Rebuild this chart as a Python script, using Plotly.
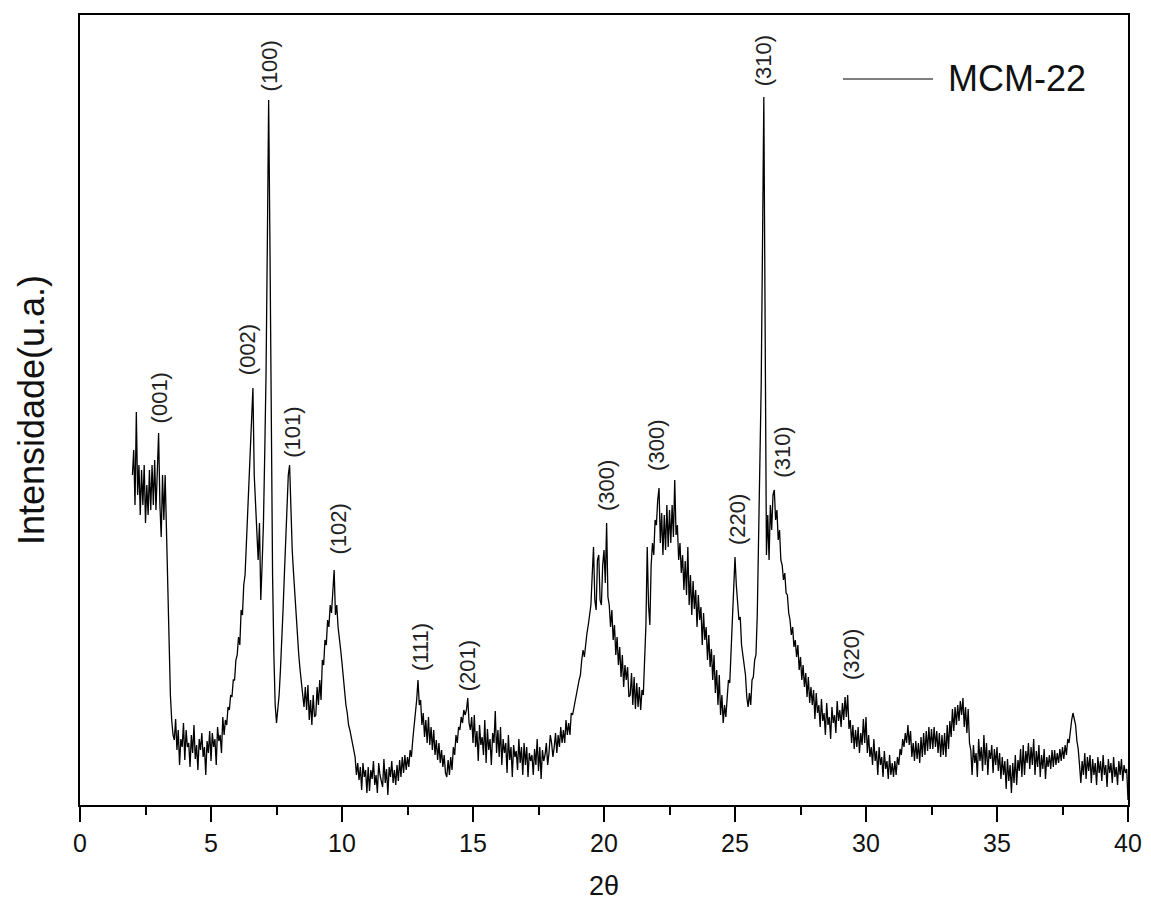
import plotly.graph_objects as go

# ---- data ----
# XRD sampling grid: 2.00 .. 40.00 degrees, 0.05 degree step; one row per degree
two_theta_start = 2.0
two_theta_step = 0.05

intensity_rows = [
    [330, 355, 300, 393, 310, 340, 290, 335, 300, 340, 282, 320, 290, 335, 295, 340, 300, 345, 295, 335],  # 2
    [372, 300, 268, 330, 285, 330, 270, 215, 150, 110, 85, 70, 65, 86, 55, 75, 40, 66, 58, 82],  # 3
    [45, 75, 58, 62, 38, 70, 52, 80, 46, 60, 35, 66, 55, 72, 48, 58, 30, 64, 52, 74],  # 4
    [44, 72, 58, 66, 40, 78, 64, 70, 52, 88, 70, 85, 80, 98, 95, 110, 108, 125, 125, 145],  # 5
    [150, 168, 160, 195, 190, 220, 230, 262, 290, 330, 360, 390, 417, 330, 300, 270, 245, 282, 205, 240],  # 6
    [280, 350, 430, 560, 705, 560, 330, 230, 150, 100, 82, 95, 110, 135, 160, 195, 230, 270, 300, 330],  # 7
    [340, 290, 255, 232, 210, 190, 175, 150, 135, 122, 115, 98, 118, 95, 120, 85, 105, 80, 110, 88],  # 8
    [90, 118, 100, 125, 105, 145, 140, 165, 160, 185, 178, 200, 192, 210, 235, 190, 200, 178, 168, 155],  # 9
    [142, 128, 110, 100, 92, 80, 75, 68, 62, 52, 48, 30, 42, 25, 38, 15, 42, 28, 35, 12],  # 10
    [38, 14, 35, 26, 44, 20, 30, 12, 42, 30, 24, 18, 46, 22, 36, 10, 38, 28, 44, 22],  # 11
    [35, 20, 40, 24, 45, 28, 48, 32, 50, 35, 48, 38, 55, 48, 65, 78, 90, 105, 125, 100],  # 12
    [105, 80, 92, 68, 85, 62, 88, 60, 78, 55, 75, 50, 65, 45, 62, 42, 55, 38, 50, 32],  # 13
    [28, 45, 30, 48, 35, 58, 50, 70, 62, 78, 75, 88, 82, 95, 90, 95, 107, 82, 75, 88],  # 14
    [62, 90, 58, 74, 44, 80, 60, 68, 50, 85, 42, 76, 55, 66, 40, 72, 62, 94, 52, 75],  # 15
    [48, 78, 40, 66, 52, 62, 32, 70, 45, 58, 28, 60, 48, 54, 35, 66, 42, 58, 30, 62],  # 16
    [40, 58, 28, 52, 44, 50, 30, 56, 40, 66, 34, 58, 26, 55, 44, 50, 62, 40, 52, 70],  # 17
    [62, 48, 58, 72, 52, 70, 58, 78, 62, 75, 62, 85, 70, 82, 70, 92, 90, 98, 105, 112],  # 18
    [118, 125, 130, 145, 155, 148, 162, 172, 180, 190, 200, 230, 258, 205, 195, 245, 250, 205, 200, 240],  # 19
    [255, 222, 282, 208, 200, 178, 195, 165, 180, 150, 168, 140, 158, 128, 150, 118, 140, 125, 138, 108],  # 20
    [110, 132, 100, 128, 96, 122, 98, 118, 95, 115, 110, 145, 180, 258, 200, 180, 240, 262, 250, 285],  # 21
    [280, 305, 317, 262, 292, 250, 290, 255, 300, 258, 295, 262, 300, 268, 325, 270, 280, 245, 262, 232],  # 22
    [250, 215, 244, 210, 258, 200, 230, 190, 224, 196, 215, 178, 210, 185, 198, 160, 192, 165, 178, 145],  # 23
    [170, 138, 156, 125, 150, 112, 135, 100, 130, 90, 110, 82, 100, 88, 110, 125, 122, 150, 185, 215],  # 24
    [248, 220, 205, 185, 188, 160, 150, 138, 130, 108, 98, 112, 100, 125, 128, 145, 150, 190, 255, 340],  # 25
    [420, 560, 708, 480, 250, 290, 245, 300, 275, 310, 315, 285, 295, 265, 275, 245, 240, 225, 232, 212],  # 26
    [210, 192, 185, 170, 178, 158, 165, 148, 160, 135, 148, 125, 140, 118, 132, 108, 128, 102, 118, 100],  # 27
    [115, 86, 112, 92, 100, 78, 106, 84, 92, 70, 102, 80, 88, 66, 98, 82, 90, 72, 104, 84],  # 28
    [95, 78, 102, 85, 108, 88, 110, 76, 85, 62, 80, 56, 75, 58, 78, 52, 72, 60, 86, 62],  # 29
    [88, 52, 70, 48, 58, 40, 66, 44, 54, 30, 58, 40, 48, 28, 54, 36, 44, 26, 50, 30],  # 30
    [42, 28, 44, 30, 48, 40, 56, 50, 66, 58, 72, 62, 80, 60, 74, 48, 62, 44, 64, 46],  # 31
    [62, 42, 68, 48, 72, 50, 74, 54, 78, 56, 76, 56, 78, 58, 74, 52, 72, 48, 70, 50],  # 32
    [72, 48, 80, 56, 84, 68, 96, 74, 98, 80, 100, 84, 104, 90, 107, 78, 98, 72, 96, 62],  # 33
    [55, 30, 60, 42, 52, 28, 66, 44, 58, 34, 70, 40, 62, 30, 55, 46, 60, 32, 56, 40],  # 34
    [58, 34, 52, 26, 48, 30, 44, 16, 46, 24, 40, 12, 42, 22, 50, 20, 45, 34, 56, 28],  # 35
    [60, 30, 54, 42, 62, 36, 58, 40, 66, 30, 54, 38, 60, 28, 50, 36, 56, 26, 48, 38],  # 36
    [50, 36, 55, 38, 55, 40, 52, 42, 56, 44, 58, 46, 60, 50, 66, 62, 75, 85, 92, 86],  # 37
    [80, 64, 56, 40, 22, 44, 30, 52, 26, 48, 34, 50, 22, 46, 30, 42, 20, 48, 32, 44],  # 38
    [24, 50, 30, 40, 18, 46, 32, 42, 22, 48, 28, 38, 20, 44, 30, 46, 24, 40, 32, 36],  # 39
    [5],  # 40.00
]

intensity = []
for row in intensity_rows:
    intensity.extend(row)
two_theta = [round(two_theta_start + two_theta_step * i, 2) for i in range(len(intensity))]

hkl_labels = ["(001)", "(002)", "(100)", "(101)", "(102)", "(111)", "(201)",
              "(300)", "(300)", "(220)", "(310)", "(310)", "(320)"]
hkl_x = [3.05, 6.4, 7.25, 8.1, 9.85, 12.98, 14.8, 20.1, 22.0, 25.1, 26.1, 26.8, 29.45]
hkl_y = [380, 428, 712, 345, 248, 132, 112, 292, 332, 258, 717, 325, 123]

x_ticks = [0, 5, 10, 15, 20, 25, 30, 35, 40]
series_name = "MCM-22"

FONT = "Liberation Sans, Arial, sans-serif"

fig = go.Figure()
fig.add_trace(go.Scatter(
    x=two_theta, y=intensity, mode="lines", name=series_name,
    line=dict(color="black", width=1.3), showlegend=False,
))

for lab, xx, yy in zip(hkl_labels, hkl_x, hkl_y):
    fig.add_annotation(x=xx, y=yy, xref="x", yref="y", text=lab, showarrow=False,
                       textangle=-90, xanchor="center", yanchor="bottom",
                       font=dict(family=FONT, size=22, color="#222222"))

# legend drawn manually (long sample line as in the reference)
fig.add_shape(type="line", xref="paper", yref="paper", x0=0.728, x1=0.814, y0=0.919, y1=0.919,
              line=dict(color="black", width=1.2))
fig.add_annotation(xref="paper", yref="paper", x=0.826, y=0.919, text=series_name,
                   showarrow=False, xanchor="left", yanchor="middle",
                   font=dict(family=FONT, size=36, color="#111111"))

fig.update_layout(
    width=1143, height=906,
    margin=dict(l=72, r=23, t=7, b=109),
    paper_bgcolor="white", plot_bgcolor="white",
    font=dict(family=FONT, color="#111111"),
)
fig.update_xaxes(
    range=[0, 40], tickvals=x_ticks, ticks="outside", ticklen=15, tickwidth=2,
    tickcolor="black", showline=True, linecolor="black", linewidth=2, mirror=True,
    showgrid=False, zeroline=False, tickfont=dict(family=FONT, size=25, color="#111111"),
    minor=dict(dtick=2.5, ticks="outside", ticklen=8, tickwidth=2, tickcolor="black", showgrid=False),
    title=dict(text="2θ", font=dict(family=FONT, size=27, color="#111111"), standoff=20),
    automargin=False,
)
fig.update_yaxes(
    range=[0, 790], showticklabels=False, ticks="", showline=True, linecolor="black",
    linewidth=2, mirror=True, showgrid=False, zeroline=False,
    title=dict(text="Intensidade(u.a.)", font=dict(family=FONT, size=36, color="#111111"), standoff=22),
    automargin=False,
)

fig.write_html("out.html")
